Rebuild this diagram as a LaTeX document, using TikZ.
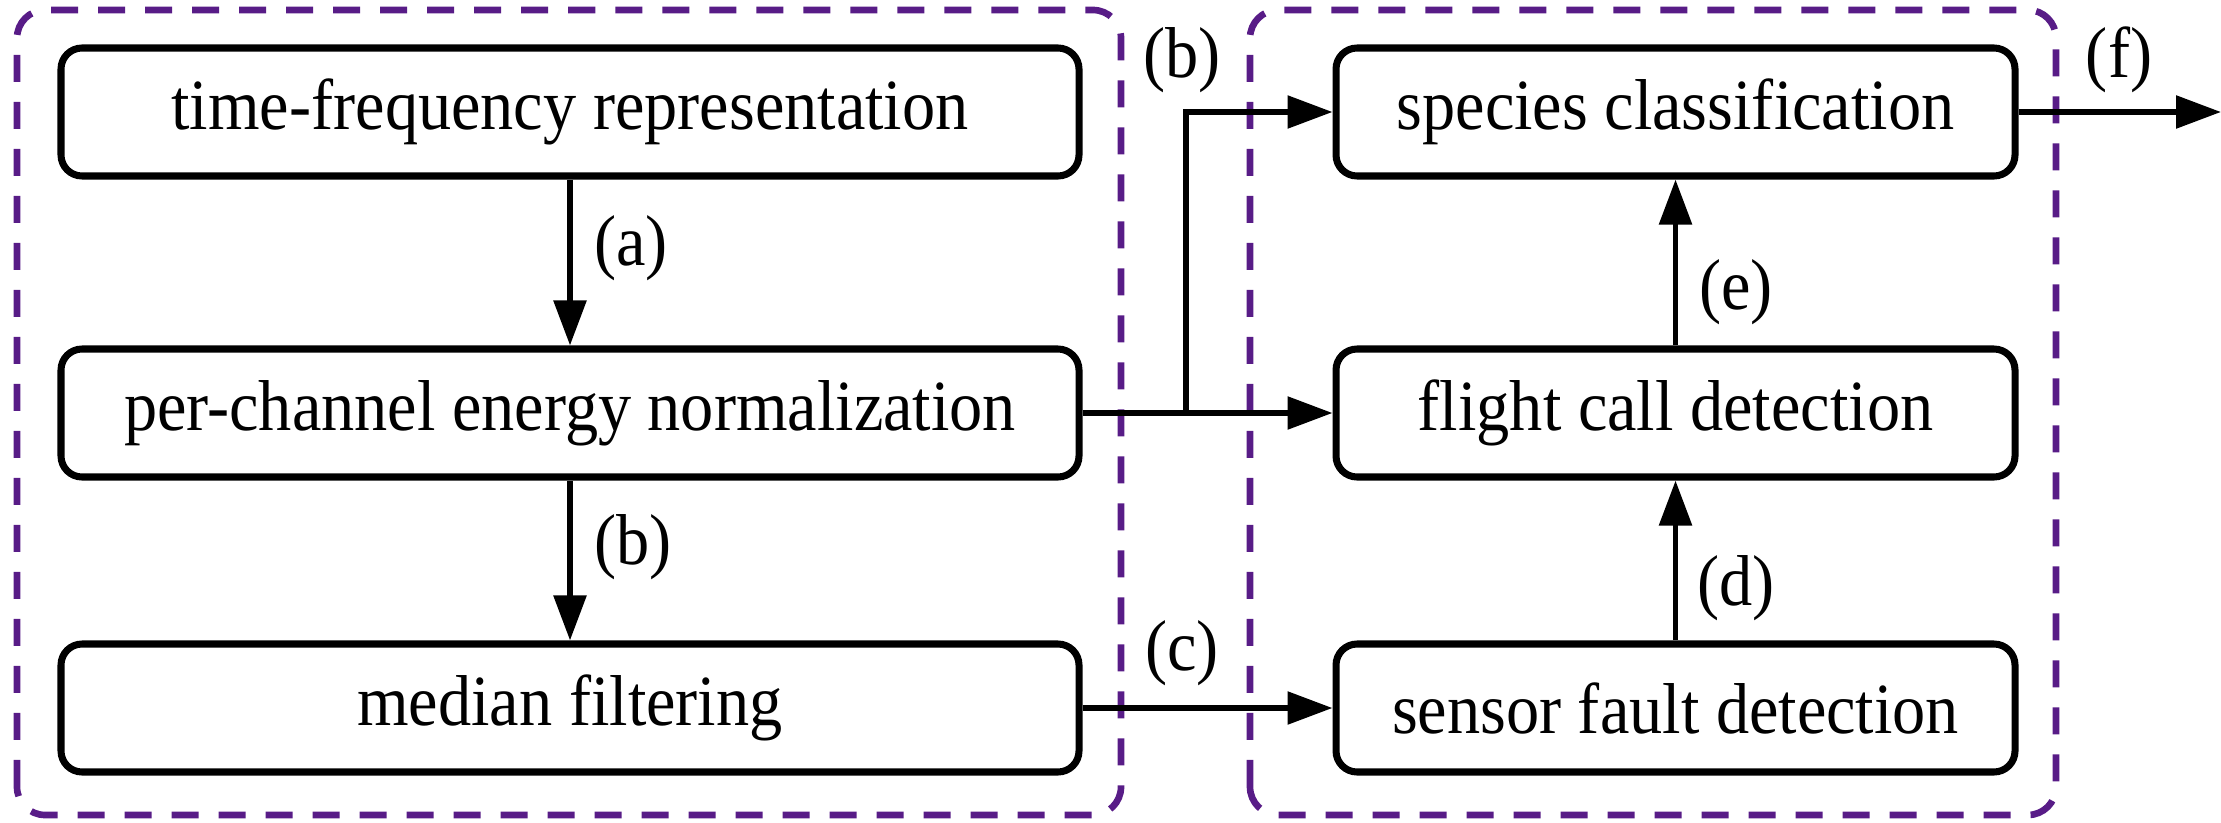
\documentclass[tikz,border=0pt]{standalone}
\usepackage{fontspec}
\setmainfont{Liberation Serif}[FakeStretch=0.92]
\usetikzlibrary{arrows.meta,positioning}
\definecolor{grppurple}{RGB}{88,28,135}
\tikzset{
  blk/.style={draw, line width=2pt, rounded corners=6pt, minimum height=1.28cm, inner sep=0pt},
  wideblk/.style={blk, minimum width=10.18cm},
  narrowblk/.style={blk, minimum width=6.79cm},
  grp/.style={draw=grppurple, line width=1.9pt, dash pattern=on 0.27cm off 0.2cm, rounded corners=8pt},
}

\begin{document}
\begin{tikzpicture}[> = {Triangle[length=4.5mm,width=3.2mm]}, line width=1.6pt, font=\fontsize{20.5}{24}\selectfont]
		\useasboundingbox (0,0) rectangle (22.21,8.22);
		% dashed groups
		\draw[grp] (0.17,0.07) rectangle (11.21,8.12);
		\draw[grp] (12.50,0.07) rectangle (20.56,8.12);
		% left column
		\node[wideblk] (tfr) at (5.70,7.10) {time-frequency representation};
		\node[wideblk] (pcen) at (5.70,4.09) {per-channel energy normalization};
		\node[wideblk] (medfilt) at (5.70,1.14) {median filtering};
		% right column
		\node[narrowblk] (species) at (16.755,7.10) {species classification};
		\node[narrowblk] (flight) at (16.755,4.09) {flight call detection};
		\node[narrowblk] (sensor) at (16.755,1.14) {sensor fault detection};
		\coordinate (split) at (11.86,4.09);
		\coordinate (out) at (22.21,7.10);
		% connectors
		\draw[->] (tfr) -- (pcen);
		\draw[->] (pcen) -- (medfilt);
		\draw[->] (pcen) -- (flight);
		\draw[->] (split) |- (species);
		\draw[->] (medfilt) -- (sensor);
		\draw[->] (sensor) -- (flight);
		\draw[->] (flight) -- (species);
		\draw[->] (species) -- (out);
		% labels
		\node (la) at (6.31,5.74) {(a)};
		\node (lb) at (6.33,2.75) {(b)};
		\node (lbtop) at (11.82,7.62) {(b)};
		\node (lc) at (11.82,1.69) {(c)};
		\node (ld) at (17.36,2.34) {(d)};
		\node (le) at (17.36,5.30) {(e)};
		\node (lf) at (21.19,7.62) {(f)};
	\end{tikzpicture}
\end{document}
